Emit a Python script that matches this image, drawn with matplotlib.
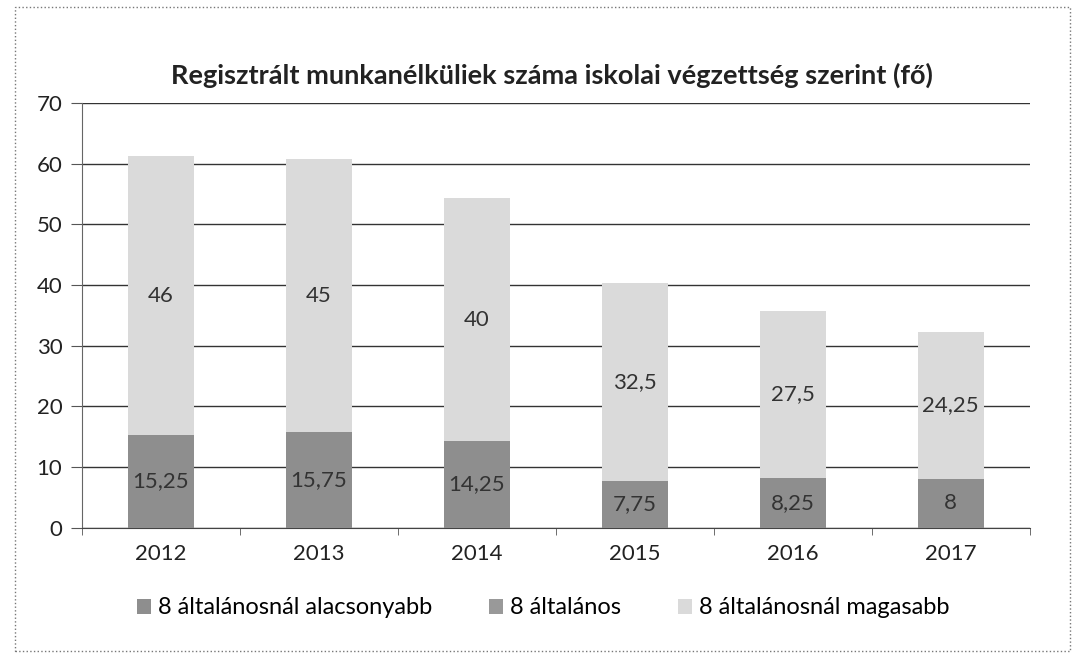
import numpy as np
import matplotlib.pyplot as plt

years = ['2012', '2013', '2014', '2015', '2016', '2017']
also = [15.25, 15.75, 14.25, 7.75, 8.25, 8]         # 8 általánosnál alacsonyabb
altalanos = [0, 0, 0, 0, 0, 0]                       # 8 általános
felso = [46, 45, 40, 32.5, 27.5, 24.25]              # 8 általánosnál magasabb
labels = ['8 általánosnál alacsonyabb', '8 általános', '8 általánosnál magasabb']

plt.rcParams['font.family'] = ['Lato', 'DejaVu Sans']

fig = plt.figure(figsize=(10.76, 6.68), dpi=100)
ax = fig.add_axes([0.076, 0.21, 0.881, 0.636])

x = np.arange(len(years))
w = 0.42
dark = '#8e8e8e'
light = '#dadada'

b1 = ax.bar(x, also, w, color=dark, label=labels[0], zorder=3)
b2 = ax.bar(x, altalanos, w, bottom=also, color='#999999', label=labels[1], zorder=3)
bottom2 = np.array(also) + np.array(altalanos)
b3 = ax.bar(x, felso, w, bottom=bottom2, color=light, label=labels[2], zorder=3)


def fmt(v):
    return ('%g' % v).replace('.', ',')


for rect, v in zip(b1, also):
    ax.text(rect.get_x() + rect.get_width() / 2, rect.get_y() + v / 2, fmt(v),
            ha='center', va='center', fontsize=16, color='#333333', zorder=4)
for rect, v, b in zip(b3, felso, bottom2):
    ax.text(rect.get_x() + rect.get_width() / 2, b + v / 2, fmt(v),
            ha='center', va='center', fontsize=16, color='#333333', zorder=4)

ax.set_ylim(0, 70)
ax.set_yticks(range(0, 71, 10))
ax.set_xlim(-0.5, len(years) - 0.5)
ax.set_xticks(x)
ax.set_xticklabels(years)
ax.set_xticks(np.arange(-0.5, len(years)), minor=True)
ax.tick_params(axis='x', which='major', length=0, labelsize=16, pad=12, colors='#222222')
ax.tick_params(axis='x', which='minor', length=5, color='#555555')
ax.tick_params(axis='y', length=8, labelsize=16, pad=6, color='#555555', colors='#222222')
ax.yaxis.grid(True, color='#333333', linewidth=1.0, zorder=0)

for s in ['top', 'right']:
    ax.spines[s].set_visible(False)
ax.spines['left'].set_color('#666666')
ax.spines['bottom'].set_color('#444444')

fig.text(0.513, 0.887, 'Regisztrált munkanélküliek száma iskolai végzettség szerint (fő)',
         ha='center', va='center', fontsize=19.5, fontweight='bold', color='#222222')

fig.legend(handles=[b1, b2, b3], labels=labels, loc='center', bbox_to_anchor=(0.505, 0.09),
           ncol=3, frameon=False, fontsize=17, handlelength=0.6, handleheight=0.6,
           handletextpad=0.3, columnspacing=2.4)

# chart border
fig.patches.append(plt.Rectangle((0.014, 0.025), 0.98, 0.965, transform=fig.transFigure,
                                 fill=False, edgecolor='#777777', linewidth=1, linestyle=':'))

fig.savefig('out.png', dpi=100, facecolor='white')
